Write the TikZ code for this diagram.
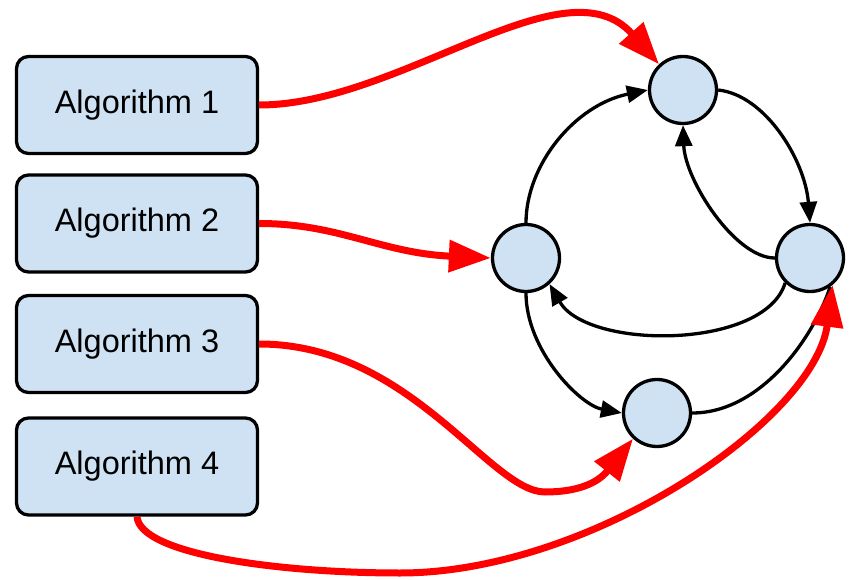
\documentclass[tikz,border=0pt]{standalone}
\usepackage{fontspec}
\setmainfont{Liberation Sans}
\usetikzlibrary{arrows.meta}
\definecolor{boxblue}{HTML}{CFE2F3}
\definecolor{ared}{HTML}{FF0000}
\begin{document}
\begin{tikzpicture}[x=1pt,y=-1pt,
  algbox/.style={draw=black, line width=3.3pt, fill=boxblue, rounded corners=12pt,
    minimum width=241pt, minimum height=97pt, inner sep=0pt,
    font=\fontsize{32.5}{38}\selectfont},
  state/.style={draw=black, line width=3.3pt, fill=boxblue, circle,
    minimum size=67pt, inner sep=0pt},
  redarrow/.style={draw=ared, line width=7pt, -{Triangle[length=42pt,width=31pt]}},
  blackarrow/.style={draw=black, line width=3.3pt, -{Triangle[length=21pt,width=17pt]}},
  blackline/.style={draw=black, line width=3.3pt}]
\useasboundingbox (0,0) rectangle (854,580);

\node[algbox] (b1) at (137,105) {Algorithm 1};
\node[algbox] (b2) at (137,223.5) {Algorithm 2};
\node[algbox] (b3) at (137,344) {Algorithm 3};
\node[algbox] (b4) at (137,466.5) {Algorithm 4};

\node[state] (top) at (683,90) {};
\node[state] (left) at (526,258) {};
\node[state] (right) at (810,258) {};
\node[state] (bot) at (657,413) {};

% black connectors
\draw[blackarrow] (left.north) .. controls +(0,-58) and +(-73,15) .. (top.west);
\draw[blackarrow] (top.east) .. controls +(47,5) and +(-5,-63) .. (right.north);
\draw[blackarrow] (right.west) .. controls +(-40,0) and +(2,55) .. (top.south);
\draw[blackarrow] (right.225) .. controls +(-20,67) and +(38,66) .. (left.-48);
\draw[blackarrow] (left.south) .. controls +(0,57) and +(-42,-8) .. (bot.west);
\draw[blackline] (bot.east) .. controls +(68,0) and +(-17,52) .. (right.305);

% red connectors
\draw[redarrow] (b1.east) .. controls +(141,0) and +(-94,-106) .. (top.133);
\draw[redarrow] (b2.east) .. controls +(80,0) and +(-110,-5) .. (left.west);
\draw[redarrow] (b3.east) .. controls +(151,0) and (490,492) .. (545,492)
  .. controls +(30,0) and +(-36.3,45.7) .. (bot.227);
\draw[redarrow] (b4.south) .. controls +(3,38) and (280,573) .. (400,573)
  .. controls (590,573) and +(-18,135) .. (right.310);
\end{tikzpicture}
\end{document}
